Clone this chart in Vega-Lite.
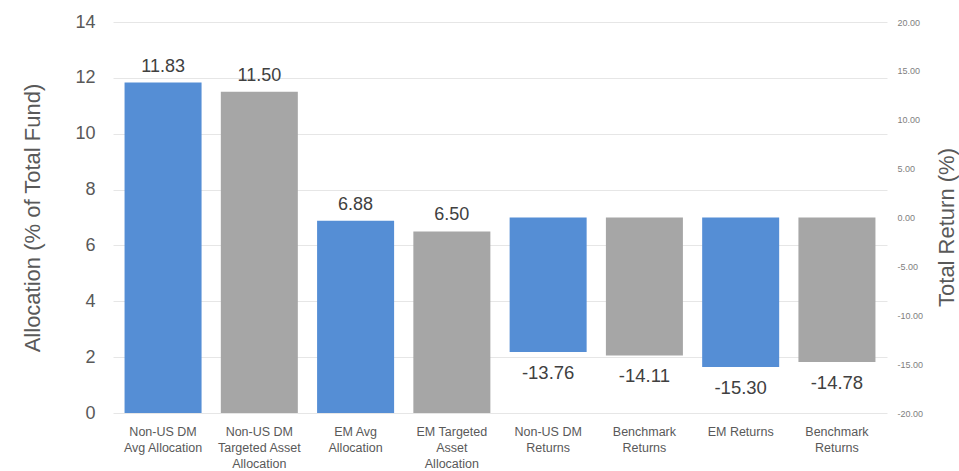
{
  "$schema": "https://vega.github.io/schema/vega-lite/v6.json",
  "width": 774,
  "height": 391,
  "autosize": {"type": "none"},
  "padding": {"left": 113, "top": 22, "right": 72, "bottom": 58},
  "config": {"font": "Liberation Sans", "view": {"stroke": null}},
  "data": {
    "values": [
      {"cat": "Non-US DM|Avg Allocation", "series": "Fund", "alloc": 11.83, "ret": null},
      {"cat": "Non-US DM|Targeted Asset|Allocation", "series": "Benchmark", "alloc": 11.50, "ret": null},
      {"cat": "EM Avg|Allocation", "series": "Fund", "alloc": 6.88, "ret": null},
      {"cat": "EM Targeted|Asset|Allocation", "series": "Benchmark", "alloc": 6.50, "ret": null},
      {"cat": "Non-US DM|Returns", "series": "Fund", "alloc": null, "ret": -13.76},
      {"cat": "Benchmark|Returns", "series": "Benchmark", "alloc": null, "ret": -14.11},
      {"cat": "EM Returns", "series": "Fund", "alloc": null, "ret": -15.30},
      {"cat": "Benchmark|Returns ", "series": "Benchmark", "alloc": null, "ret": -14.78}
    ]
  },
  "encoding": {
    "x": {
      "field": "cat",
      "type": "nominal",
      "sort": null,
      "title": null,
      "scale": {"paddingInner": 0.2, "paddingOuter": 0.12},
      "axis": {
        "labelAngle": 0,
        "labelExpr": "split(datum.label, '|')",
        "labelFontSize": 12.5,
        "labelColor": "#595959",
        "labelLineHeight": 16,
        "labelPadding": 12,
        "labelLimit": 0,
        "domain": false,
        "ticks": false
      }
    },
    "color": {
      "field": "series",
      "type": "nominal",
      "legend": null,
      "scale": {"domain": ["Fund", "Benchmark"], "range": ["#558ED5", "#A6A6A6"]}
    }
  },
  "layer": [
    {
      "transform": [{"filter": "datum.alloc != null"}],
      "encoding": {
        "y": {
          "field": "alloc",
          "type": "quantitative",
          "title": "Allocation (% of Total Fund)",
          "scale": {"domain": [0, 14], "nice": false},
          "axis": {
            "orient": "left",
            "values": [0, 2, 4, 6, 8, 10, 12, 14],
            "grid": true,
            "gridColor": "#e6e6e6",
            "domain": false,
            "ticks": false,
            "labelFontSize": 18,
            "labelColor": "#595959",
            "labelPadding": 18,
            "titleFontSize": 22,
            "titleFontWeight": "normal",
            "titleColor": "#595959",
            "titlePadding": 30
          }
        }
      },
      "layer": [
        {"mark": {"type": "bar"}},
        {
          "mark": {"type": "text", "baseline": "bottom", "dy": -7, "fontSize": 18, "color": "#404040"},
          "encoding": {"text": {"field": "alloc", "type": "quantitative", "format": ".2f"}, "color": {"value": "#404040"}}
        }
      ]
    },
    {
      "transform": [{"filter": "datum.ret != null"}],
      "encoding": {
        "y": {
          "field": "ret",
          "type": "quantitative",
          "title": "Total Return (%)",
          "scale": {"domain": [-20, 20], "nice": false},
          "axis": {
            "orient": "right",
            "values": [-20, -15, -10, -5, 0, 5, 10, 15, 20],
            "labelExpr": "replace(format(datum.value, '.2f'), '\u2212', '-')",
            "grid": false,
            "domain": false,
            "ticks": false,
            "labelFontSize": 9,
            "labelColor": "#808080",
            "labelPadding": 10,
            "titleFontSize": 22,
            "titleFontWeight": "normal",
            "titleColor": "#595959",
            "titleAngle": 270,
            "titleX": 59,
            "titleY": 205,
            "titleAlign": "center",
            "titleBaseline": "middle"
          }
        }
      },
      "layer": [
        {"mark": {"type": "bar"}},
        {
          "mark": {
            "type": "text",
            "baseline": "top",
            "dy": 12,
            "fontSize": 18.5,
            "color": "#404040",
            "text": {"expr": "replace(format(datum.ret, '.2f'), '\u2212', '-')"}
          },
          "encoding": {"color": {"value": "#404040"}}
        }
      ]
    }
  ],
  "resolve": {"scale": {"y": "independent"}}
}
